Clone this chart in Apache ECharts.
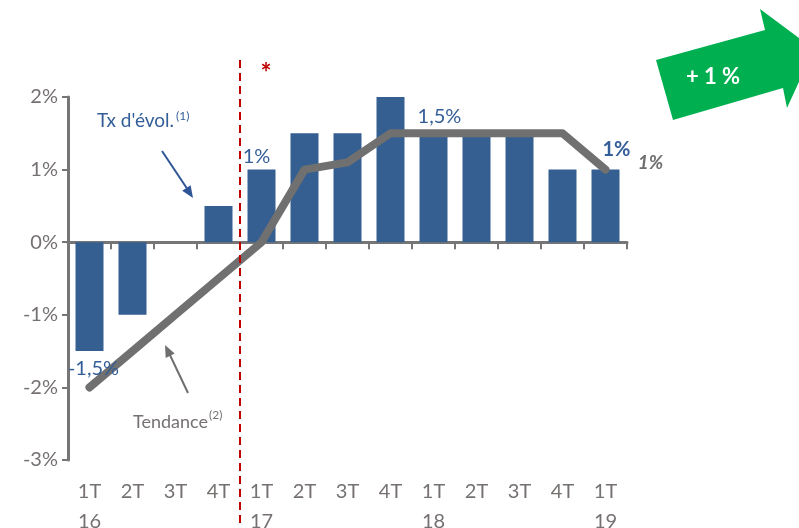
<!DOCTYPE html>
<html><head><meta charset="utf-8">
<script src="https://cdn.jsdelivr.net/npm/echarts@6/dist/echarts.min.js"></script>
<style>html,body{margin:0;padding:0;background:#fff}#c{width:799px;height:528px}</style>
</head><body><div id="c"></div>
<script>
var quarters = ['1T','2T','3T','4T','1T','2T','3T','4T','1T','2T','3T','4T','1T'];
var years    = ['16','','','','17','','','','18','','','','19'];
var rates    = [-1.5,-1.0,0,0.5,1.0,1.5,1.5,2.0,1.5,1.5,1.5,1.0,1.0];
var trend    = [-2.0,-1.5,-1.0,-0.5,0,1.0,1.1,1.5,1.5,1.5,1.5,1.5,1.0];
var yTicks   = [-3,-2,-1,0,1,2];
var labelIdx   = [0,4,8,12,12];
var labelVals  = [-1.5,1.0,1.5,1.0,1.0];
var labelTexts = ['-1,5%','1%','1,5%','1%','1%'];

var cats = quarters.map(function(q,i){ return years[i] ? q + '\n' + years[i] : q; });
var FONT = 'Lato';
var GRAY = '#767171';
var BLUE = '#345E98';
var labelStyles = [
  {offset:[4,17], color:BLUE, fontWeight:'normal', fontStyle:'normal'},
  {offset:[-5,-13], color:BLUE, fontWeight:'normal', fontStyle:'normal'},
  {offset:[6,-17], color:BLUE, fontWeight:'normal', fontStyle:'normal'},
  {offset:[11,-20], color:BLUE, fontWeight:'bold', fontStyle:'normal'},
  {offset:[45,-7], color:'#6F6F6F', fontWeight:'bold', fontStyle:'italic', fontSize:19}
];
var labelData = labelIdx.map(function(ix,i){
  var s = labelStyles[i];
  return {value:[ix,labelVals[i]], label:{show:true, position:'inside', formatter:labelTexts[i],
    offset:s.offset, color:s.color, fontWeight:s.fontWeight, fontStyle:s.fontStyle,
    textBorderWidth:0, textBorderColor:'transparent', opacity:1,
    fontSize:s.fontSize||20, fontFamily:FONT}};
});

function textW(t, font){
  var c = document.createElement('canvas').getContext('2d');
  c.font = font; return c.measureText(t).width;
}

var chart = echarts.init(document.getElementById('c'), null, {renderer:'canvas'});
chart.setOption({
  animation:false,
  grid:{left:68, right:172, top:97, bottom:68, containLabel:false, outerBoundsMode:'none'},
  xAxis:[{
    type:'category', data:cats, position:'bottom', boundaryGap:true,
    axisLine:{show:true, onZero:true, lineStyle:{color:'#767676', width:3}},
    axisTick:{show:true, interval:0, length:7, lineStyle:{color:'#767676', width:2}},
    axisLabel:{show:false}
  },{
    type:'category', data:cats, position:'bottom', offset:0, boundaryGap:true,
    axisLine:{show:false, onZero:false}, axisTick:{show:false},
    axisLabel:{show:true, interval:0, margin:17, lineHeight:30, fontSize:20, color:GRAY, fontFamily:FONT}
  }],
  yAxis:{
    type:'value', min:yTicks[0], max:yTicks[yTicks.length-1], interval:1,
    axisLine:{show:true, lineStyle:{color:'#767676', width:3}},
    axisTick:{show:true, length:6, lineStyle:{color:'#767676', width:2}},
    splitLine:{show:false},
    axisLabel:{formatter:function(v){return v+'%';}, fontSize:20, color:GRAY, fontFamily:FONT, margin:10}
  },
  series:[{
    type:'bar', data:rates, barWidth:28, xAxisIndex:0,
    itemStyle:{color:'#355F91'}, z:2
  },{
    type:'line', data:trend, xAxisIndex:0, symbol:'none', z:3,
    lineStyle:{color:'#707070', width:8, cap:'round', join:'round'}
  },{
    type:'scatter', data:labelData, xAxisIndex:0, symbolSize:0, z:5, silent:true,
    itemStyle:{opacity:1}
  }]
});

var x1 = chart.convertToPixel({xAxisIndex:0}, 3);
var x2 = chart.convertToPixel({xAxisIndex:0}, 4);
var xr = (x1 + x2) / 2;
var txW = textW("Tx d'évol.", '19px ' + FONT);
var tdW = textW('Tendance', '18px ' + FONT);
chart.setOption({graphic:[
  {type:'line', shape:{x1:xr, y1:60, x2:xr, y2:528}, style:{stroke:'#C00000', lineWidth:2, lineDash:[8,5]}, z:10},
  {type:'text', x:xr+26, y:74, style:{text:'*', fill:'#C00000', font:'bold 26px '+FONT, textAlign:'center', textVerticalAlign:'middle'}, z:10},
  {type:'polygon', shape:{points:[[656,60],[765,30],[760,9],[814,49],[787,108],[783,88],[673,120]]}, style:{fill:'#00B050'}, z:10},
  {type:'text', x:713, y:77, style:{text:'+ 1 %', fill:'#fff', font:'bold 22px '+FONT, textAlign:'center', textVerticalAlign:'middle'}, z:11},
  {type:'text', x:97, y:121, style:{text:"Tx d'évol.", fill:BLUE, font:'19px '+FONT, textVerticalAlign:'middle'}, z:10},
  {type:'text', x:97+txW+2, y:116, style:{text:'(1)', fill:BLUE, font:'12px '+FONT, textVerticalAlign:'middle'}, z:10},
  {type:'line', shape:{x1:162, y1:151, x2:188, y2:190}, style:{stroke:'#2F5597', lineWidth:2}, z:10},
  {type:'polygon', shape:{points:[[193,198],[182.2,190.8],[190.6,185.3]]}, style:{fill:'#2F5597'}, z:10},
  {type:'text', x:133, y:422, style:{text:'Tendance', fill:GRAY, font:'18px '+FONT, textVerticalAlign:'middle'}, z:10},
  {type:'text', x:133+tdW+1, y:415, style:{text:'(2)', fill:GRAY, font:'12px '+FONT, textVerticalAlign:'middle'}, z:10},
  {type:'line', shape:{x1:188, y1:393, x2:169, y2:353}, style:{stroke:'#6F6F6F', lineWidth:2}, z:10},
  {type:'polygon', shape:{points:[[165,345],[174.7,353.6],[165.7,358]]}, style:{fill:'#6F6F6F'}, z:10}
]});
</script></body></html>
